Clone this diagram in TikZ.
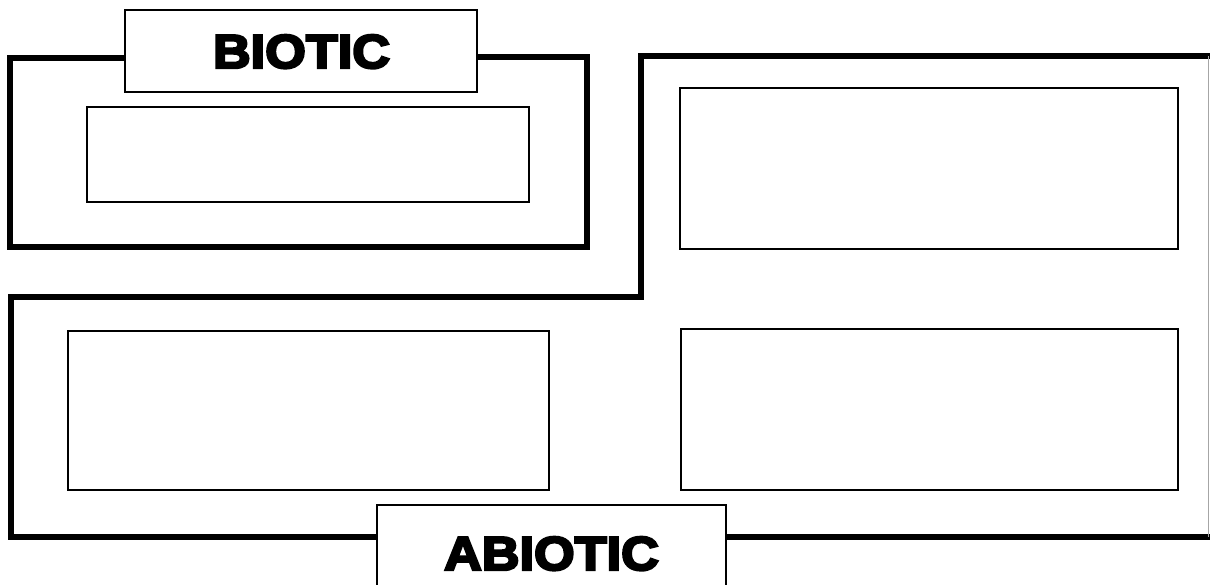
\documentclass[tikz,border=0pt]{standalone}
\usepackage{fontspec}
\newfontfamily\heavyfont{Liberation Sans}[UprightFont={* Bold},UprightFeatures={FakeBold=5,FakeStretch=1.1}]
\begin{document}
\begin{tikzpicture}[x=1pt,y=-1pt,
  frame/.style={line width=5.5pt,line join=miter},
  inbox/.style={draw,line width=2.6pt,inner sep=0pt},
  labelbox/.style={draw,line width=2pt,inner sep=0pt,fill=white},
  labeltext/.style={font=\heavyfont\fontsize{47.5}{50}\selectfont,anchor=base,inner sep=0pt}]
\useasboundingbox (0,0) rectangle (1210,584);
\clip (0,0) rectangle (1210,584);
\fill[white] (0,0) rectangle (1210,584);
% boxes
\node[labelbox,minimum width=352pt,minimum height=82pt] (biolabel) at (301,51) {};
\node[inbox,minimum width=442pt,minimum height=95pt] (bioin) at (308,154.5) {};
\node[inbox,minimum width=498pt,minimum height=161pt] (ur) at (929,168.5) {};
\node[inbox,minimum width=481pt,minimum height=159pt] (ll) at (308.5,410.5) {};
\node[inbox,minimum width=497pt,minimum height=161pt] (lr) at (929.5,409.5) {};
\node[labelbox,minimum width=349pt,minimum height=110pt] (abiolabel) at (551.5,560) {};
% frames
\coordinate (bA) at (10,58);
\coordinate (bB) at (10,247);
\coordinate (bC) at (587,247);
\coordinate (bD) at (587,57);
\draw[frame] (biolabel.west |- bA) -- (bA) -- (bB) -- (bC) -- (bD) -- (biolabel.east |- bD);
\coordinate (aA) at (1215,56);
\coordinate (aB) at (641,56);
\coordinate (aC) at (641,297);
\coordinate (aD) at (11,297);
\coordinate (aE) at (11,537);
\coordinate (aF) at (1215,537);
\draw[frame] (aA) -- (aB) -- (aC) -- (aD) -- (aE) -- (abiolabel.west |- aE);
\draw[frame] (abiolabel.east |- aF) -- (aF);
\coordinate (rT) at (1208,56);
\coordinate (rB) at (1208,537);
\draw[line width=1pt,black!35] (rT) -- (rB);
% labels
\node[labeltext] (biotic) at (301.5,68) {BIOTIC};
\node[labeltext] (abiotic) at (551.5,570) {ABIOTIC};
\end{tikzpicture}
\end{document}
